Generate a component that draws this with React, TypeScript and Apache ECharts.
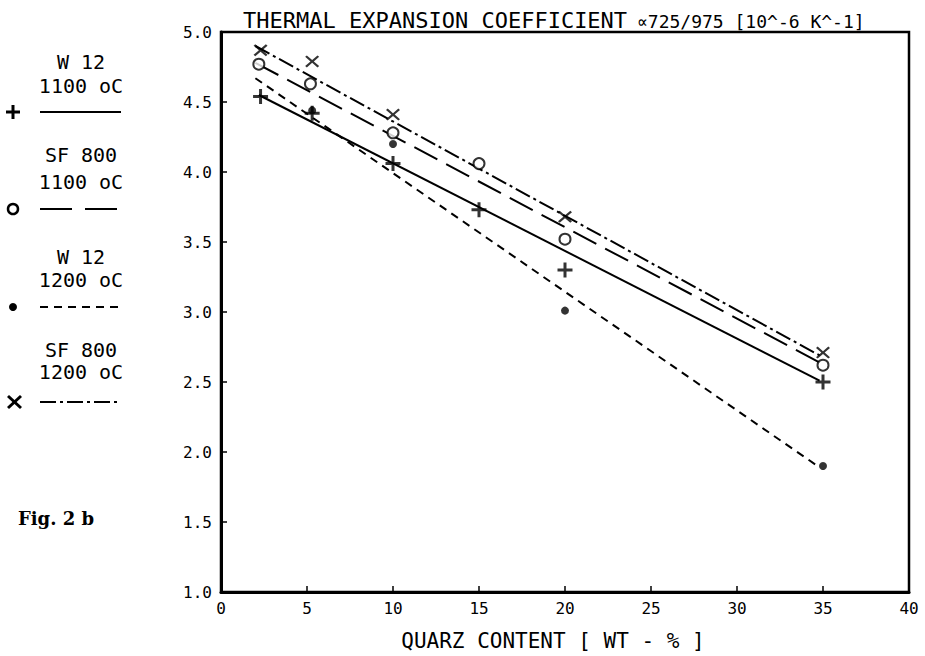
import React, { useEffect, useRef } from "react";
import * as echarts from "echarts";

// ---- data ----
const xTickStep = 5;
const yTickStep = 0.5;

const w12_1100_x = [2.3, 5.3, 10, 15, 20, 35];
const w12_1100_y = [4.54, 4.42, 4.06, 3.73, 3.3, 2.5];
const sf800_1100_x = [2.2, 5.2, 10, 15, 20, 35];
const sf800_1100_y = [4.77, 4.63, 4.28, 4.06, 3.52, 2.62];
const w12_1200_x = [5.3, 10, 20, 35];
const w12_1200_y = [4.44, 4.2, 3.01, 1.9];
const sf800_1200_x = [2.3, 5.3, 10, 20, 35];
const sf800_1200_y = [4.87, 4.79, 4.41, 3.68, 2.71];

// fitted lines (start / end points)
const fit_w12_1100 = [[2.2, 4.55], [34.8, 2.51]];
const fit_sf800_1100 = [[2.0, 4.78], [34.8, 2.64]];
const fit_w12_1200 = [[2.0, 4.67], [34.8, 1.89]];
const fit_sf800_1200 = [[2.0, 4.9], [34.8, 2.69]];

const legendGroups = [
  { l1: "W 12", l2: "1100 oC" },
  { l1: "SF 800", l2: "1100 oC" },
  { l1: "W 12", l2: "1200 oC" },
  { l1: "SF 800", l2: "1200 oC" },
];

const titleMain = "THERMAL EXPANSION COEFFICIENT";
const titleUnit = "∝725/975 [10^-6 K^-1]";
const xName = "QUARZ CONTENT [ WT - % ]";
const figLabel = "Fig. 2 b";

const MONO = '"DejaVu Sans Mono", monospace';

const zip = (xs: number[], ys: number[]) => xs.map((x, i) => [x, ys[i]]);

const PLUS = "path://M4,0 H6 V4 H10 V6 H6 V10 H4 V6 H0 V4 H4 Z";
const CROSS = "path://M0,1.2 L1.2,0 L5,3.8 L8.8,0 L10,1.2 L6.2,5 L10,8.8 L8.8,10 L5,6.2 L1.2,10 L0,8.8 L3.8,5 Z";

export default function App() {
  const ref = useRef<HTMLDivElement>(null);
  useEffect(() => {
    if (!ref.current) return;
    const chart = echarts.init(ref.current, null, { renderer: "svg" });

    const lineBase = { type: "line", symbol: "none", silent: true, z: 2 };
    const ly = [112, 209, 307, 402];
    const t1 = [62, 155, 257, 350];
    const t2 = [86, 182, 280, 372];
    const g: any[] = [];
    legendGroups.forEach((lg, i) => {
      g.push({ type: "text", x: 81, y: t1[i], style: { text: lg.l1, font: `20px ${MONO}`, fill: "#000", align: "center", verticalAlign: "middle" } });
      g.push({ type: "text", x: 81, y: t2[i], style: { text: lg.l2, font: `20px ${MONO}`, fill: "#000", align: "center", verticalAlign: "middle" } });
    });
    const dashes: any[] = [null, [32, 13], [8, 6], [16, 4, 3, 4]];
    ly.forEach((y, i) => {
      const st: any = { stroke: "#000", lineWidth: 2 };
      if (dashes[i]) st.lineDash = dashes[i];
      g.push({ type: "line", shape: { x1: 40, y1: y, x2: 121, y2: y }, style: st });
    });
    // legend symbols
    g.push({ type: "line", shape: { x1: 6, y1: ly[0], x2: 20, y2: ly[0] }, style: { stroke: "#000", lineWidth: 3 } });
    g.push({ type: "line", shape: { x1: 13, y1: ly[0] - 7, x2: 13, y2: ly[0] + 7 }, style: { stroke: "#000", lineWidth: 3 } });
    g.push({ type: "circle", shape: { cx: 13, cy: ly[1], r: 5 }, style: { fill: "none", stroke: "#000", lineWidth: 2.5 } });
    g.push({ type: "circle", shape: { cx: 13, cy: ly[2], r: 4 }, style: { fill: "#000" } });
    g.push({ type: "line", shape: { x1: 8, y1: ly[3] - 6, x2: 21, y2: ly[3] + 6 }, style: { stroke: "#000", lineWidth: 3 } });
    g.push({ type: "line", shape: { x1: 8, y1: ly[3] + 6, x2: 21, y2: ly[3] - 6 }, style: { stroke: "#000", lineWidth: 3 } });
    g.push({ type: "text", x: 18, y: 518, style: { text: figLabel, font: 'bold 18px "DejaVu Serif"', fill: "#000", align: "left", verticalAlign: "middle" } });

    chart.setOption({
      animation: false,
      backgroundColor: "#fff",
      title: [
        {
          text: titleMain,
          left: 238,
          top: 4,
          textStyle: { fontFamily: MONO, fontSize: 22, color: "#000", fontWeight: "normal" },
        },
        {
          text: titleUnit,
          left: 632,
          top: 7,
          textStyle: { fontFamily: MONO, fontSize: 18, color: "#000", fontWeight: "normal" },
        },
      ],
      grid: { left: 221, right: 16, top: 32, bottom: 62, show: true, borderColor: "#000", borderWidth: 2.5, backgroundColor: "transparent" },
      xAxis: {
        type: "value",
        min: 0,
        max: 40,
        interval: xTickStep,
        name: xName,
        nameLocation: "middle",
        nameGap: 38,
        nameTextStyle: { fontFamily: MONO, fontSize: 21, color: "#000", padding: [0, 24, 0, 0] },
        axisLine: { show: true, lineStyle: { color: "#000", width: 3 } },
        axisTick: { show: true, inside: true, length: 6, lineStyle: { color: "#000", width: 1.5 } },
        axisLabel: { fontFamily: MONO, fontSize: 16, color: "#000", margin: 8 },
        splitLine: { show: false },
      },
      yAxis: {
        type: "value",
        min: 1,
        max: 5,
        interval: yTickStep,
        axisLine: { show: true, lineStyle: { color: "#000", width: 3 } },
        axisTick: { show: true, inside: true, length: 6, lineStyle: { color: "#000", width: 1.5 } },
        axisLabel: { fontFamily: MONO, fontSize: 16, color: "#000", margin: 9, formatter: (v: number) => v.toFixed(1) },
        splitLine: { show: false },
      },
      graphic: g,
      series: [
        { ...lineBase, name: "fit W12 1100", data: fit_w12_1100, lineStyle: { color: "#000", width: 2, type: "solid" } },
        { ...lineBase, name: "fit SF800 1100", data: fit_sf800_1100, lineStyle: { color: "#000", width: 2, type: [26, 10] } },
        { ...lineBase, name: "fit W12 1200", data: fit_w12_1200, lineStyle: { color: "#000", width: 2, type: [8, 6] } },
        { ...lineBase, name: "fit SF800 1200", data: fit_sf800_1200, lineStyle: { color: "#000", width: 2, type: [16, 4, 3, 4] } },
        { type: "scatter", name: "W 12 1100 oC", data: zip(w12_1100_x, w12_1100_y), symbol: PLUS, symbolSize: 15, itemStyle: { color: "#000" }, z: 5 },
        { type: "scatter", name: "SF 800 1100 oC", data: zip(sf800_1100_x, sf800_1100_y), symbol: "circle", symbolSize: 11, itemStyle: { color: "#fff", borderColor: "#000", borderWidth: 2 }, z: 5 },
        { type: "scatter", name: "W 12 1200 oC", data: zip(w12_1200_x, w12_1200_y), symbol: "circle", symbolSize: 8, itemStyle: { color: "#000" }, z: 6 },
        { type: "scatter", name: "SF 800 1200 oC", data: zip(sf800_1200_x, sf800_1200_y), symbol: CROSS, symbolSize: [14, 12], itemStyle: { color: "#000" }, z: 5 },
      ],
    });
    return () => chart.dispose();
  }, []);
  return <div ref={ref} style={{ width: 925, height: 656, position: "absolute", left: 0, top: 0 }} />;
}
